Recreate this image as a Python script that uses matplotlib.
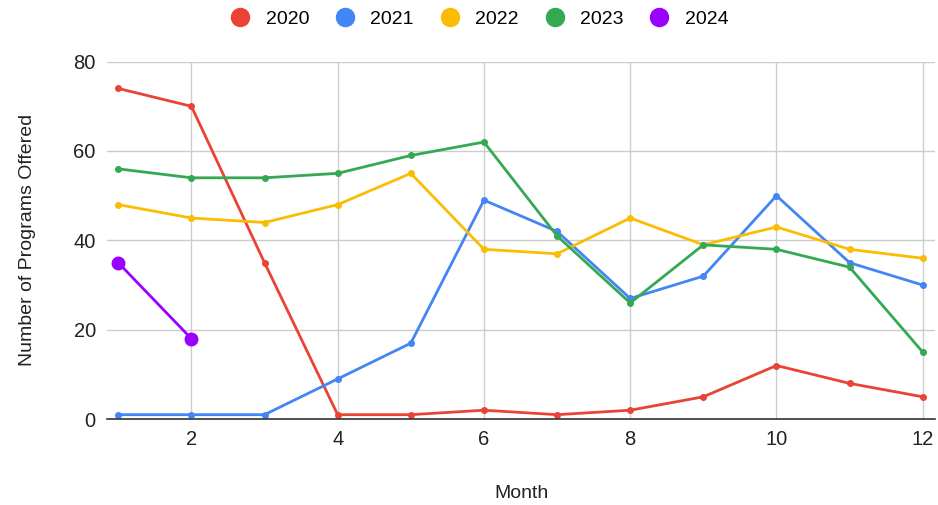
import matplotlib.pyplot as plt
from matplotlib.lines import Line2D

plt.rcParams['font.family'] = ['Liberation Sans', 'DejaVu Sans']

months = list(range(1, 13))
programs_2020 = [74, 70, 35, 1, 1, 2, 1, 2, 5, 12, 8, 5]
programs_2021 = [1, 1, 1, 9, 17, 49, 42, 27, 32, 50, 35, 30]
programs_2022 = [48, 45, 44, 48, 55, 38, 37, 45, 39, 43, 38, 36]
programs_2023 = [56, 54, 54, 55, 59, 62, 41, 26, 39, 38, 34, 15]
programs_2024 = [35, 18]

series = [
  ('2020', programs_2020, '#ea4335', 4),
  ('2021', programs_2021, '#4285f4', 4),
  ('2022', programs_2022, '#fbbc04', 4),
  ('2023', programs_2023, '#34a853', 4),
  ('2024', programs_2024, '#9900ff', 9),
]

fig = plt.figure(figsize=(9.38, 5.05), dpi=100)
ax = fig.add_axes([0.114, 0.170, 0.883, 0.708])

for name, vals, color, ms in series:
  ax.plot(months[:len(vals)], vals, color=color, linewidth=2, marker='o',
          markersize=ms, label=name, zorder=3)

ax.set_xlim(0.845, 12.17)
ax.set_ylim(0, 80)
ax.set_xticks([2, 4, 6, 8, 10, 12])
ax.set_yticks([0, 20, 40, 60, 80])
ax.grid(color='#cccccc', linewidth=1, zorder=0)
for side in ['top', 'right', 'left']:
  ax.spines[side].set_visible(False)
ax.spines['bottom'].set_color('#333333')
ax.spines['bottom'].set_linewidth(1.2)
ax.spines['bottom'].set_zorder(4)
ax.tick_params(length=0, labelsize=14.5, colors='#222222', pad=8)

ax.set_xlabel('Month', fontsize=14, color='#222222', labelpad=26)
ax.set_ylabel('Number of Programs Offered', fontsize=14, color='#222222', labelpad=27)

handles = [Line2D([], [], linestyle='none', marker='o', markersize=13,
                  color=c) for _, _, c, _ in series]
fig.legend(handles, [s[0] for s in series], loc='upper center',
           bbox_to_anchor=(0.506, 1.015), ncol=5, frameon=False, fontsize=14,
           handletextpad=0.3, columnspacing=0.85)

plt.savefig('out.png')
